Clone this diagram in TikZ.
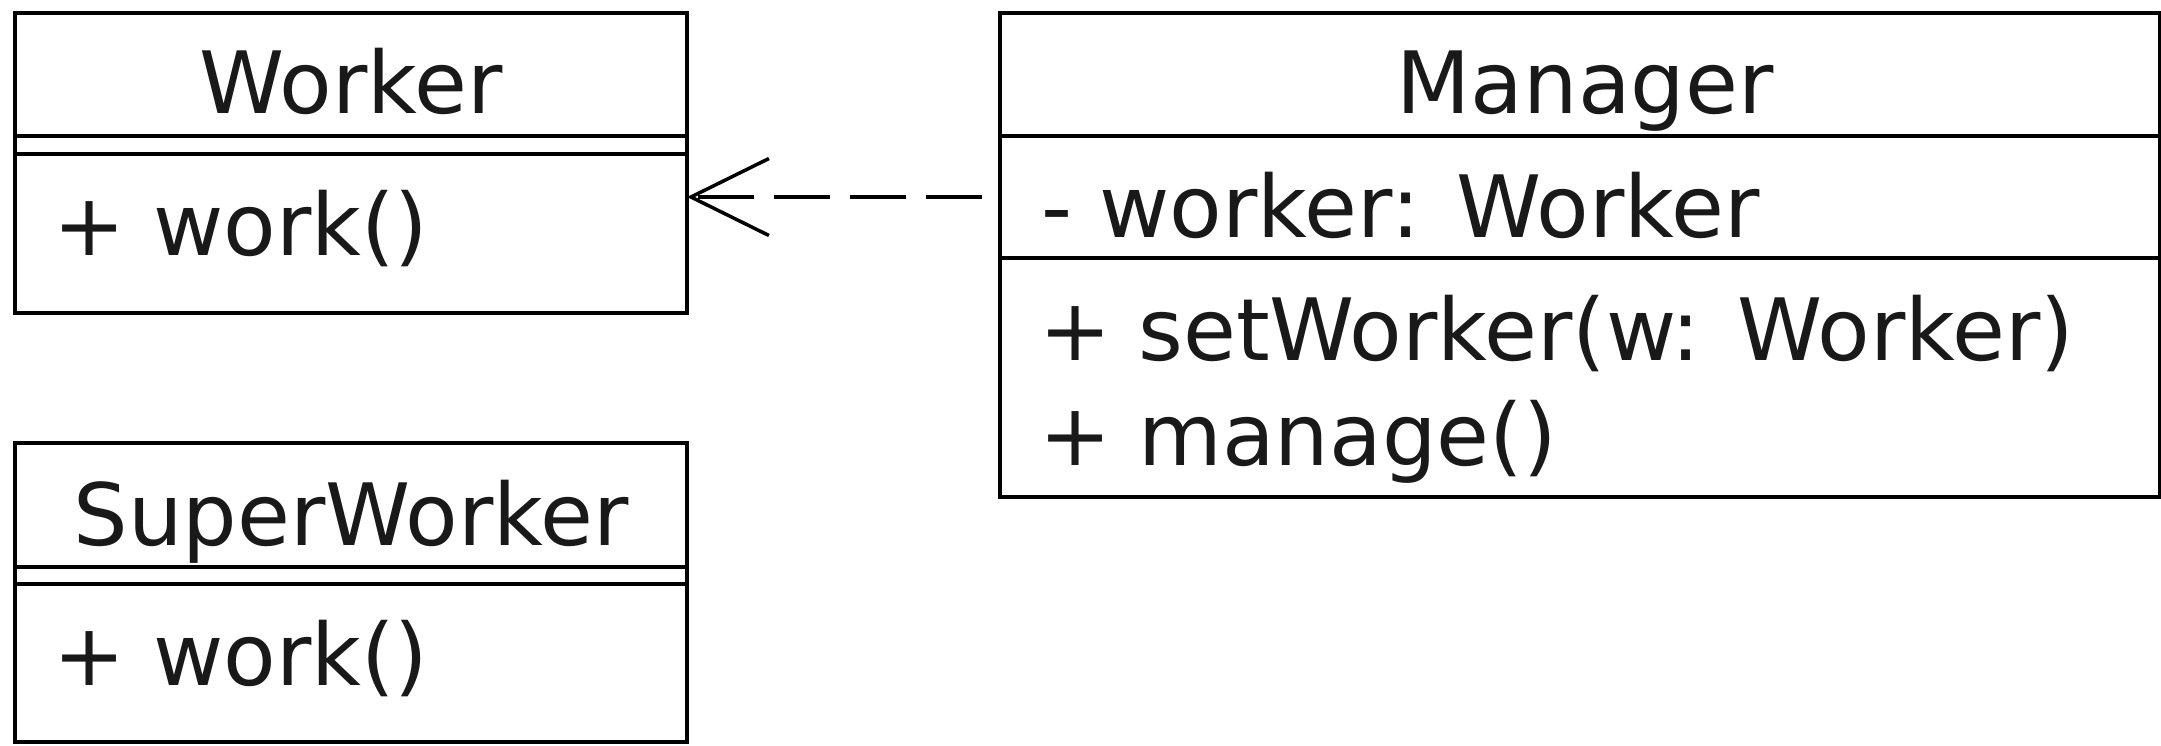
\documentclass[tikz,border=0pt]{standalone}
\usepackage{fontspec}
\setmainfont{DejaVu Sans}
\usetikzlibrary{arrows.meta}

\begin{document}
\begin{tikzpicture}[x=0.5pt,y=-0.5pt,
  umlbox/.style={draw=black, line width=2pt, fill=none, inner sep=0pt, outer sep=0pt},
  sepline/.style={draw=black, line width=2pt},
  umltext/.style={inner sep=0pt, outer sep=0pt, text=black!90,
                  font=\fontsize{43pt}{52pt}\selectfont},
  classname/.style={umltext, anchor=base},
  member/.style={umltext, anchor=base west},
  depend/.style={draw=black, line width=1.75pt, dash pattern=on 28pt off 10pt, dash phase=29pt,
                 -{Straight Barb[length=39pt, width=38.5pt, line width=1.75pt]}}
]
  \fill[white] (0,0) rectangle (2161,745);
  \useasboundingbox (0,0) rectangle (2161,745);

  % class Worker
  \node[umlbox, minimum width=336pt, minimum height=150pt] (worker) at (351,163) {};
  \draw[sepline] (15,136) -- (687,136);
  \draw[sepline] (15,154) -- (687,154);
  \node[classname] (workerName) at (351,113) {Worker};
  \node[member] (workerOp) at (54,255) {+ work()};

  % class SuperWorker
  \node[umlbox, minimum width=336pt, minimum height=149.5pt] (superworker) at (351,592.5) {};
  \draw[sepline] (15,567) -- (687,567);
  \draw[sepline] (15,584) -- (687,584);
  \node[classname] (superName) at (351,545) {SuperWorker};
  \node[member] (superOp) at (54,685) {+ work()};

  % class Manager
  \node[umlbox, minimum width=580pt, minimum height=242pt] (manager) at (1580,255) {};
  \draw[sepline] (1000,136) -- (2160,136);
  \draw[sepline] (1000,258) -- (2160,258);
  \node[classname] (managerName) at (1585,113) {Manager};
  \node[member] (managerAttr) at (1041,237) {- worker: Worker};
  \node[member] (managerOp1) at (1039,360) {+ setWorker(w: Worker)};
  \node[member] (managerOp2) at (1039,465) {+ manage()};

  % dependency Manager -> Worker
  \coordinate (depY) at (0,197);
  \draw[depend] (manager.west |- depY) -- (worker.east |- depY);
\end{tikzpicture}
\end{document}
